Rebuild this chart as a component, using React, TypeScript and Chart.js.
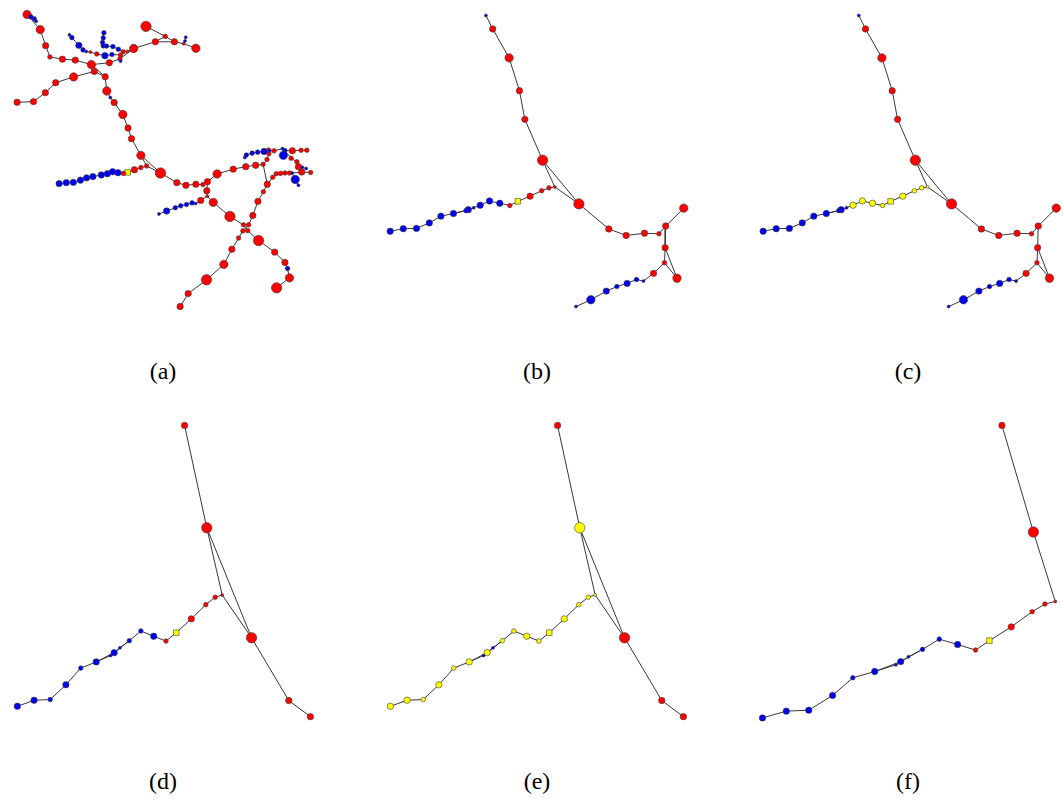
import React, { useEffect, useRef } from "react";
import { Chart, registerables } from "chart.js";

Chart.register(...registerables);

// ---------- data ----------
// node tuples: [x, y, weight]  (coordinates in the layout space of each network drawing)
type Node = [number, number, number];

// Panel (a): full network
const nodesA: Node[] = [
  [22, 9, 4], [26, 11.5, 2], [29.5, 13.5, 2], [31.5, 16, 1], [35.7, 24.7, 4], [41.3, 41.3, 3], [45.7, 53, 2],
  [58.7, 55.3, 3], [72, 56.3, 3], [88.7, 61, 4], [91.7, 68, 3], [103, 73.5, 3], [107.3, 59, 3], [118.3, 55, 2],
  [132.5, 44.3, 4], [155, 37.3, 3], [165.3, 31.7, 2], [174.7, 37.3, 3], [184.3, 39.3, 1], [197, 44, 4],
  [145.3, 21.3, 5], [186.5, 32.5, 1], [185.7, 36.5, 1], [11.7, 100, 3], [28.7, 99.3, 3], [41, 90, 3],
  [51.7, 79.7, 3], [70.3, 73.7, 4], [66, 30, 1], [68.5, 33, 2], [75.7, 41, 3], [80, 45.7, 2], [83.3, 47.3, 1],
  [87.7, 48, 1], [94.3, 50, 2], [102.7, 51.7, 3], [110, 50.5, 2], [119, 51, 2], [121.7, 47.7, 2], [126, 47.3, 1],
  [101.7, 28, 2], [101, 33.3, 2], [100.3, 38, 2], [101, 41.5, 2], [104.3, 41.7, 2], [111, 42.3, 2], [116.7, 45, 2],
  [119, 57.3, 1], [104.7, 88.3, 4], [108.3, 95, 1], [112.3, 100.3, 3], [121.3, 112.7, 4], [126.7, 126.7, 3],
  [130.3, 137.7, 3], [140, 155, 4], [160.3, 173.3, 5], [146, 166, 2], [140, 167.7, 2], [133.3, 170, 3],
  [126.3, 172.7, 3], [122, 173.7, 2], [116.3, 173, 3], [110.7, 172, 3], [105.3, 174, 3], [99, 175.3, 3],
  [90.3, 177, 3], [83.7, 178.3, 3], [77.3, 180.7, 3], [70, 183, 3], [62.7, 183.3, 3], [55.3, 184.3, 3],
  [177.3, 183.3, 3], [186.7, 186, 3], [197, 185, 3], [204.3, 185.3, 2], [209, 182.3, 3], [219, 174.3, 4],
  [235.7, 169.3, 3], [248.7, 166.7, 3], [259, 165.3, 3], [266.7, 164.3, 2], [270.7, 159.3, 2], [272.7, 153.3, 2],
  [272.3, 149.5, 2], [208.3, 191.7, 3], [208.7, 197.3, 1], [202, 201.7, 3], [215, 203.7, 4], [232.3, 218.3, 5],
  [246.3, 227, 2], [251.7, 227, 2], [245.7, 233.3, 2], [250.7, 233, 2], [262, 243.3, 5], [278.7, 255.3, 3],
  [289.3, 266, 3], [292, 272.3, 2], [294, 282, 4], [280.7, 292.3, 5], [241.3, 240.7, 2], [234.3, 252.3, 3],
  [226, 268, 4], [208, 284, 5], [189, 298.3, 3], [180.7, 311.7, 3], [256, 217.3, 3], [261.3, 202.7, 3],
  [267, 192.7, 2], [271, 185, 3], [276.7, 177.7, 2], [280.3, 174, 2], [284.7, 173.7, 2], [289.3, 173.3, 2],
  [294, 173.3, 2], [296.7, 173.3, 1], [306.7, 172.3, 3], [316, 172.7, 2], [196.7, 205, 1], [193, 204.3, 2],
  [187.3, 206, 2], [181.3, 207.3, 2], [175.7, 209.3, 2], [166.7, 212.7, 3], [158.7, 215.7, 1], [247.7, 157.3, 1],
  [249.3, 154.7, 2], [255.3, 152.7, 2], [261, 151.7, 2], [267.7, 151, 3], [273.3, 150, 1], [278, 150.3, 2],
  [286.7, 148, 1], [289.3, 150, 2], [287.7, 155, 4], [297, 150.3, 3], [306, 149.7, 2], [312, 149.7, 2],
  [295.7, 158, 2], [301.7, 161.7, 2], [303.3, 166.7, 3], [307.3, 167.3, 1], [311.3, 168.7, 1], [300, 180, 4],
  [303.3, 186, 1],
];
// R red, B blue, Y yellow, S yellow square
const classesA: string[] = (
  "R" + "BBB" + "R".repeat(17) + "BB" + "R".repeat(5) + "B".repeat(5) + "RR" + "BB" + "RRR" + "B".repeat(8) +
  "R" + "B" + "R".repeat(9) + "S" + "R" + "B".repeat(10) + "R".repeat(25) + "B" + "R".repeat(17) + "B" + "RR" +
  "B".repeat(7) + "B".repeat(6) + "R" + "BBB" + "R".repeat(6) + "B".repeat(4)
).split("");
const pathsA: number[][] = [
  [0, 1, 2, 3], [0, 4, 5, 6, 7, 8, 9, 12, 13, 14, 15, 17, 18, 19], [15, 16, 17], [20, 16], [18, 22, 21],
  [23, 24, 25, 26, 27, 10, 11], [9, 10], [9, 11], [11, 48, 49, 50, 51, 52, 53, 54],
  [28, 29, 30, 31, 32, 33, 34, 35, 36, 37, 38, 39, 14], [40, 41, 42, 43, 44, 45, 46, 38], [13, 47],
  [54, 55], [54, 56, 55], [56, 57, 58, 59, 60, 61, 62, 63, 64, 65, 66, 67, 68, 69, 70],
  [55, 71, 72, 73, 74, 75, 76, 77, 78, 79, 80, 81, 82, 83, 130], [124, 125, 126, 127, 128, 129, 130],
  [130, 131, 132, 134, 135, 136], [132, 133], [132, 137, 138, 139, 140, 141], [139, 115, 116], [114, 142, 143],
  [75, 84, 85, 87, 88, 89, 92, 93, 94, 95, 96, 97, 98], [89, 90], [91, 92],
  [85, 86, 117, 118, 119, 120, 121, 122, 123],
  [104, 103, 102, 101, 100, 99, 91, 90, 105, 106, 107, 108, 109, 110, 111, 112, 113, 114, 115], [108, 80],
];

// Panels (b) and (c): same sub-network, two colourings
const nodesB: Node[] = [
  [484, 10, 1], [491, 24, 3], [508, 54, 4], [518.7, 88, 3], [524.3, 117.7, 3], [542.7, 160, 5], [580.3, 205.3, 5],
  [555.3, 187.7, 1], [549.3, 188.7, 2], [541.7, 191.7, 2], [529.7, 197.3, 3], [517, 202.7, 3], [508.7, 207, 2],
  [498.3, 204.7, 3], [487.7, 202.3, 3], [478, 206.7, 3], [471.3, 209.3, 1], [465.7, 211.3, 3], [463.3, 212.3, 2],
  [450.3, 215.3, 3], [437.3, 218, 3], [425.3, 225, 3], [412, 230.7, 3], [398.3, 231, 3], [384.7, 233.7, 3],
  [611.3, 231.3, 3], [629.3, 238, 3], [648.3, 235.7, 3], [663.3, 236.3, 2], [670.3, 228.3, 3], [689, 209.7, 4],
  [669.7, 250.7, 3], [669, 266.3, 2], [682, 282.3, 4], [657.7, 277.3, 3], [647.3, 285.3, 1], [640, 283.7, 2],
  [630.3, 287.7, 3], [619.7, 291, 2], [608.7, 295.7, 3], [592.7, 304.7, 4], [577.3, 311.7, 1],
];
const classesB: string[] = ("B" + "RRRRRRRRRR" + "S" + "R" + "BBBBBBBBBBBB" + "RRRRRRRRRR" + "BBBBBBB").split("");
const classesC: string[] = ("B" + "RRRRRR" + "YYYY" + "S" + "YYYY" + "BBBBBBBBB" + "RRRRRRRRRR" + "BBBBBBB").split("");
const pathsB: number[][] = [
  [0, 1, 2, 3, 4, 5, 6], [5, 7, 6], [7, 8, 9, 10, 11, 12, 13, 14, 15, 16, 17, 19, 20, 21, 22, 23, 24], [16, 18, 19],
  [6, 25, 26, 27, 28, 29, 30], [29, 31], [31, 32, 34, 35, 36, 37, 38, 39, 40, 41], [31, 33, 32],
];

// Panels (d) and (e)
const nodesD: Node[] = [
  [185.3, 420.3, 3], [208.3, 526.3, 5], [224.3, 596, 1], [254.7, 640.3, 5], [293.3, 705.3, 3], [315.7, 722, 3],
  [217, 598.3, 2], [207.3, 606, 2], [192.3, 620.7, 3], [176.7, 635, 3], [166, 643.7, 2], [153.3, 638.7, 3],
  [140, 633.3, 2], [128, 643.3, 2], [118.3, 650.7, 1], [112.3, 655.7, 3], [108.7, 658.7, 1], [93.7, 665.3, 3],
  [77.7, 671.7, 2], [62.3, 689, 3], [46, 704.3, 2], [29.3, 705, 3], [12, 711.3, 3],
];
const classesD: string[] = ("RRRRRRRRR" + "S" + "R" + "BBBBBBBBBBBB").split("");
const classesE: string[] = "RYYRRRYYYSYYYYBYBYYYYYY".split("");
const pathsD: number[][] = [
  [0, 1, 2, 3], [1, 3, 4, 5], [2, 6, 7, 8, 9, 10, 11, 12, 13, 14, 15, 16, 17, 18, 19, 20, 21, 22], [13, 15], [15, 17],
];

// Panel (f)
const nodesF: Node[] = [
  [1005.7, 420.3, 3], [1038.3, 530.7, 5], [1061, 602.7, 1], [1050.3, 605.3, 2], [1037, 613.3, 2], [1015.3, 629, 3],
  [992.7, 643.3, 3], [978.3, 653, 2], [959.7, 647.3, 3], [940.7, 641.7, 2], [923.3, 652.3, 2], [908.7, 660, 1],
  [900.7, 665, 3], [895.7, 668.3, 1], [873.7, 675.3, 3], [851, 681.7, 2], [830, 700, 3], [805.3, 715.3, 3],
  [782, 716.3, 3], [757.3, 723.3, 3],
];
const classesF: string[] = ("RRRRRR" + "S" + "R" + "BBBBBBBBBBBB").split("");
const pathsF: number[][] = [
  [0, 1, 2, 3, 4, 5, 6, 7, 8, 9, 10, 11, 12, 13, 14, 15, 16, 17, 18, 19], [10, 12], [12, 14],
];

const panelLabels = ["(a)", "(b)", "(c)", "(d)", "(e)", "(f)"];

// ---------- styling ----------
const FILL: Record<string, string> = { R: "#ff0000", B: "#0000ee", Y: "#ffff00", S: "#ffff00" };
const RADIUS = [0, 1.5, 2.3, 3.2, 4.2, 5.2];
const EDGE = "#383838";

type PanelProps = {
  nodes: Node[];
  classes: string[];
  paths: number[][];
  xMin: number;
  yMin: number;
  left: number;
  top: number;
  width: number;
  height: number;
};

function Panel({ nodes, classes, paths, xMin, yMin, left, top, width, height }: PanelProps) {
  const ref = useRef<HTMLCanvasElement | null>(null);
  useEffect(() => {
    if (!ref.current) return;
    const edgeSets = paths.map((p) => ({
      type: "scatter" as const,
      data: p.map((i) => ({ x: nodes[i][0], y: nodes[i][1] })),
      showLine: true,
      borderColor: EDGE,
      borderWidth: 1,
      pointRadius: 0,
      pointHoverRadius: 0,
      pointHitRadius: 0,
      order: 2,
      clip: false as const,
    }));
    const radii = nodes.map((n, i) => (classes[i] === "S" ? 3.9 : RADIUS[n[2]]));
    const nodeSet = {
      type: "scatter" as const,
      data: nodes.map((n) => ({ x: n[0], y: n[1] })),
      showLine: false,
      pointRadius: radii,
      pointHoverRadius: radii,
      pointBackgroundColor: classes.map((c) => FILL[c]),
      pointBorderColor: "#3c3c3c",
      pointBorderWidth: 0.6,
      pointStyle: classes.map((c) => (c === "S" ? "rect" : "circle")),
      order: 1,
      clip: false as const,
    };
    const chart = new Chart(ref.current, {
      type: "scatter",
      data: { datasets: [...edgeSets, nodeSet] as any },
      options: {
        animation: false,
        responsive: false,
        events: [],
        layout: { padding: 0 },
        plugins: { legend: { display: false }, tooltip: { enabled: false }, title: { display: false } },
        scales: {
          x: { type: "linear", min: xMin, max: xMin + width, display: false },
          y: { type: "linear", min: yMin, max: yMin + height, reverse: true, display: false },
        },
      },
    });
    return () => chart.destroy();
  }, []);
  return (
    <canvas
      ref={ref}
      width={width}
      height={height}
      style={{ position: "absolute", left, top, width, height }}
    />
  );
}

const labelStyle = (cx: number, cy: number): React.CSSProperties => ({
  position: "absolute",
  left: cx - 50,
  top: cy - 14,
  width: 100,
  height: 28,
  lineHeight: "28px",
  textAlign: "center",
  fontFamily: "'Liberation Serif', 'DejaVu Serif', serif",
  fontSize: 24,
  color: "#000",
});

export default function App() {
  const labelPos: [number, number][] = [
    [163, 371], [537, 371], [908, 371], [163, 781], [537, 781], [908, 781],
  ];
  return (
    <div style={{ position: "absolute", left: 0, top: 0, width: 1063, height: 801, background: "#fff", overflow: "hidden" }}>
      <Panel nodes={nodesA} classes={classesA} paths={pathsA} xMin={0} yMin={0} left={0} top={0} width={330} height={330} />
      <Panel nodes={nodesB} classes={classesB} paths={pathsB} xMin={375} yMin={0} left={375} top={0} width={330} height={330} />
      <Panel nodes={nodesB} classes={classesC} paths={pathsB} xMin={375} yMin={0} left={748} top={0} width={315} height={330} />
      <Panel nodes={nodesD} classes={classesD} paths={pathsD} xMin={0} yMin={400} left={0} top={400} width={330} height={335} />
      <Panel nodes={nodesD} classes={classesE} paths={pathsD} xMin={0} yMin={400} left={373} top={400} width={330} height={335} />
      <Panel nodes={nodesF} classes={classesF} paths={pathsF} xMin={740} yMin={400} left={740} top={400} width={323} height={335} />
      {panelLabels.map((t, i) => (
        <div key={t} style={labelStyle(labelPos[i][0], labelPos[i][1])}>{t}</div>
      ))}
    </div>
  );
}
